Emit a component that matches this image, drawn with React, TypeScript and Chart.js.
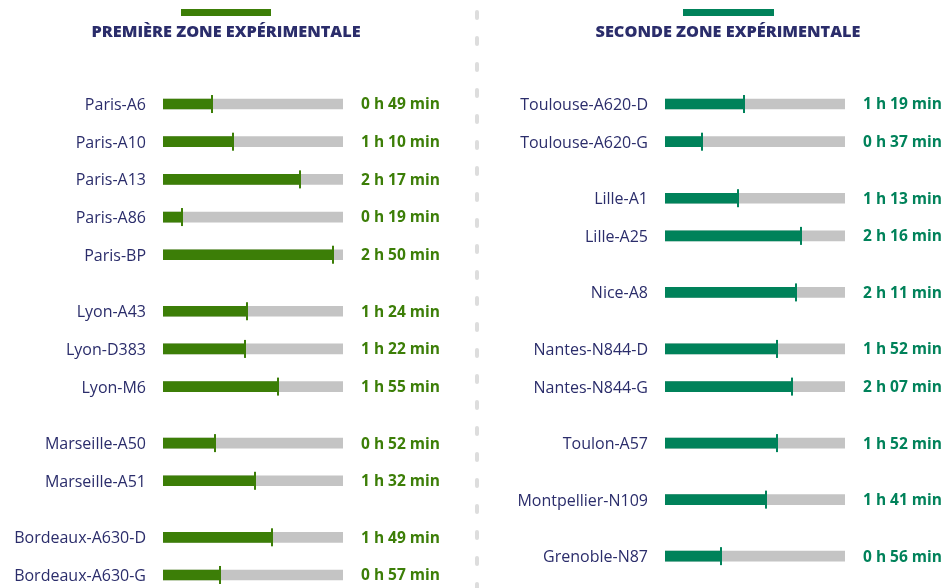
import React, { useEffect, useRef } from "react";
import { Chart, registerables } from "chart.js";

Chart.register(...registerables);

// ---- Data ----
const leftTitle = "PREMIÈRE ZONE EXPÉRIMENTALE";
const leftLabels = [
  "Paris-A6", "Paris-A10", "Paris-A13", "Paris-A86", "Paris-BP",
  "Lyon-A43", "Lyon-D383", "Lyon-M6",
  "Marseille-A50", "Marseille-A51",
  "Bordeaux-A630-D", "Bordeaux-A630-G",
];
const leftMinutes = [49, 70, 137, 19, 170, 84, 82, 115, 52, 92, 109, 57];
// slot index of each row (half-row grid, groups separated by an extra half row)
const leftSlots = [0, 2, 4, 6, 8, 11, 13, 15, 18, 20, 23, 25];

const rightTitle = "SECONDE ZONE EXPÉRIMENTALE";
const rightLabels = [
  "Toulouse-A620-D", "Toulouse-A620-G",
  "Lille-A1", "Lille-A25",
  "Nice-A8",
  "Nantes-N844-D", "Nantes-N844-G",
  "Toulon-A57",
  "Montpellier-N109",
  "Grenoble-N87",
];
const rightMinutes = [79, 37, 73, 136, 131, 112, 127, 112, 101, 56];
const rightSlots = [0, 2, 5, 7, 10, 13, 15, 18, 21, 24];

const SLOT_COUNT = 26;
const MAX_MINUTES = 180;

const LEFT_COLOR = "#3c7e07";
const RIGHT_COLOR = "#00825a";
const GRAY = "#c4c4c4";
const NAVY = "#2b2d6b";
const FONT = "'Open Sans', Lato, sans-serif";

function fmt(m: number): string {
  const h = Math.floor(m / 60);
  const mm = m % 60;
  return `${h} h ${mm < 10 ? "0" + mm : mm} min`;
}

type PanelProps = {
  title: string;
  labels: string[];
  minutes: number[];
  slots: number[];
  color: string;
  axisWidth: number;
  padRight: number;
  headerBar: [number, number];
  titleX: number;
  separator: boolean;
};

function Panel(p: PanelProps) {
  const ref = useRef<HTMLCanvasElement | null>(null);
  useEffect(() => {
    if (!ref.current) return;
    const slotLabels: string[] = Array(SLOT_COUNT).fill("");
    const vals: (number | null)[] = Array(SLOT_COUNT).fill(null);
    const bg: (number | null)[] = Array(SLOT_COUNT).fill(null);
    p.slots.forEach((s, i) => {
      slotLabels[s] = p.labels[i];
      vals[s] = p.minutes[i];
      bg[s] = MAX_MINUTES;
    });

    const deco = {
      id: "deco",
      afterDatasetsDraw(chart: any) {
        const ctx = chart.ctx;
        const x = chart.scales.x;
        const y = chart.scales.y;
        const area = chart.chartArea;
        ctx.save();
        // end markers
        ctx.fillStyle = p.color;
        vals.forEach((v, i) => {
          if (v == null) return;
          const px = x.getPixelForValue(v);
          const py = y.getPixelForValue(i);
          ctx.fillRect(px - 1, py - 9, 2, 18);
        });
        // value labels
        ctx.font = `bold 15.5px ${FONT}`;
        ctx.textAlign = "left";
        ctx.textBaseline = "middle";
        vals.forEach((v, i) => {
          if (v == null) return;
          ctx.fillText(fmt(v), area.right + 18, y.getPixelForValue(i) + 1);
        });
        // header bar + title
        ctx.fillRect(p.headerBar[0], 9, p.headerBar[1] - p.headerBar[0], 7);
        ctx.fillStyle = NAVY;
        ctx.font = `800 16.3px ${FONT}`;
        ctx.textAlign = "center";
        ctx.fillText(p.title, p.titleX, 32);
        // separator
        if (p.separator) {
          ctx.fillStyle = "#dddddd";
          for (let yy = 10; yy < 588; yy += 26) {
            ctx.beginPath();
            ctx.roundRect(3, yy, 4, 10, 2);
            ctx.fill();
          }
        }
        ctx.restore();
      },
    };

    const chart = new Chart(ref.current, {
      type: "bar",
      data: {
        labels: slotLabels,
        datasets: [
          {
            data: vals,
            backgroundColor: p.color,
            barThickness: 10,
            grouped: false,
          } as any,
          {
            data: bg,
            backgroundColor: GRAY,
            barThickness: 10,
            grouped: false,
          } as any,
        ],
      },
      options: {
        animation: false,
        responsive: false,
        indexAxis: "y",
        layout: { padding: { top: 94.6, bottom: 3.6, left: 0, right: p.padRight } },
        plugins: { legend: { display: false }, tooltip: { enabled: false } },
        scales: {
          x: { display: false, min: 0, max: MAX_MINUTES },
          y: {
            grid: { display: false, drawTicks: false },
            border: { display: false },
            ticks: {
              autoSkip: false,
              padding: 17,
              labelOffset: 1.5,
              color: NAVY,
              font: { family: FONT, size: 16, weight: "500" as any },
            },
            afterFit: (s: any) => {
              s.width = p.axisWidth;
              s.paddingTop = 0;
              s.paddingBottom = 0;
            },
          },
        },
      },
      plugins: [deco],
    });
    return () => chart.destroy();
  }, []);
  return <canvas ref={ref} width={472} height={588} style={{ display: "block" }} />;
}

export default function App() {
  return (
    <div style={{ position: "absolute", left: 0, top: 0, width: 944, height: 588, background: "#fff", display: "flex" }}>
      <Panel
        title={leftTitle}
        labels={leftLabels}
        minutes={leftMinutes}
        slots={leftSlots}
        color={LEFT_COLOR}
        axisWidth={163}
        padRight={129}
        headerBar={[181, 271]}
        titleX={226}
        separator={false}
      />
      <Panel
        title={rightTitle}
        labels={rightLabels}
        minutes={rightMinutes}
        slots={rightSlots}
        color={RIGHT_COLOR}
        axisWidth={193}
        padRight={99}
        headerBar={[211, 302]}
        titleX={256}
        separator={true}
      />
    </div>
  );
}
